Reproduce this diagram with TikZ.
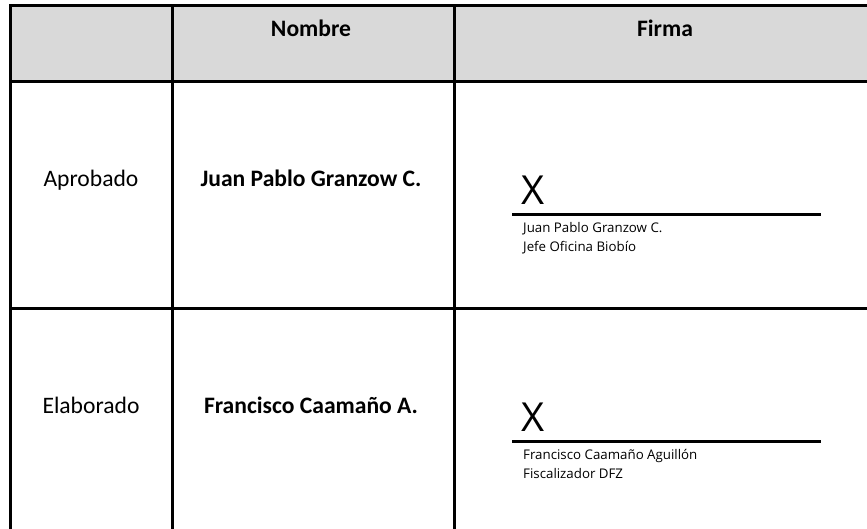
\documentclass[tikz,border=0pt]{standalone}
\usepackage{fontspec}
\setmainfont{Carlito}
\newfontfamily\signfont{Open Sans}
\usetikzlibrary{positioning}
\definecolor{headgray}{HTML}{D9D9D9}

\begin{document}
\begin{tikzpicture}[x=1pt,y=-1pt]
    \tikzset{grid line/.style={line width=3pt}}
    \tikzset{cell/.style={inner sep=0pt,anchor=base,font=\fontsize{23.6}{27}\selectfont}}
    \tikzset{head/.style={cell,font=\fontsize{23.6}{27}\selectfont\bfseries}}
    \tikzset{signtext/.style={inner sep=0pt,anchor=base west,font=\signfont\fontsize{13.3}{16}\selectfont}}
    \tikzset{xsign/.style={inner sep=0pt,anchor=base west,font=\signfont\fontsize{40}{42}\selectfont}}
    \useasboundingbox (0,0) rectangle (867,529);
    % header band and table rules
    \fill[headgray] (10,6) rectangle (867,82);
    \draw[grid line] (867,6) -- (10,6) -- (10,529);
    \draw[grid line] (172,6) -- (172,529);
    \draw[grid line] (454,6) -- (454,529);
    \draw[grid line] (10,82) -- (867,82);
    \draw[grid line] (10,308) -- (867,308);
    % header
    \node[head] (nombre) at (311,37) {Nombre};
    \node[head] (firma) at (665,37) {Firma};
    % first row
    \node[cell] (aprob) at (91,187) {Aprobado};
    \node[head] (aprobname) at (311,187) {Juan Pablo Granzow C.};
    \coordinate (s1a) at (512,215);
    \coordinate (s1b) at (821,215);
    \draw[grid line] (s1a) -- (s1b);
    \node[xsign] (x1) at (521,205) {X};
    \node[signtext] (sig1name) at (523,233) {Juan Pablo Granzow C.};
    \node[signtext] (sig1role) at (523,252) {Jefe Oficina Biobío};
    % second row
    \node[cell] (elab) at (91,413) {Elaborado};
    \node[head] (elabname) at (311,413) {Francisco Caamaño A.};
    \coordinate (s2a) at (512,441);
    \coordinate (s2b) at (821,441);
    \draw[grid line] (s2a) -- (s2b);
    \node[xsign] (x2) at (521,431) {X};
    \node[signtext] (sig2name) at (523,459) {Francisco Caamaño Aguillón};
    \node[signtext] (sig2role) at (523,478) {Fiscalizador DFZ};
\end{tikzpicture}
\end{document}
